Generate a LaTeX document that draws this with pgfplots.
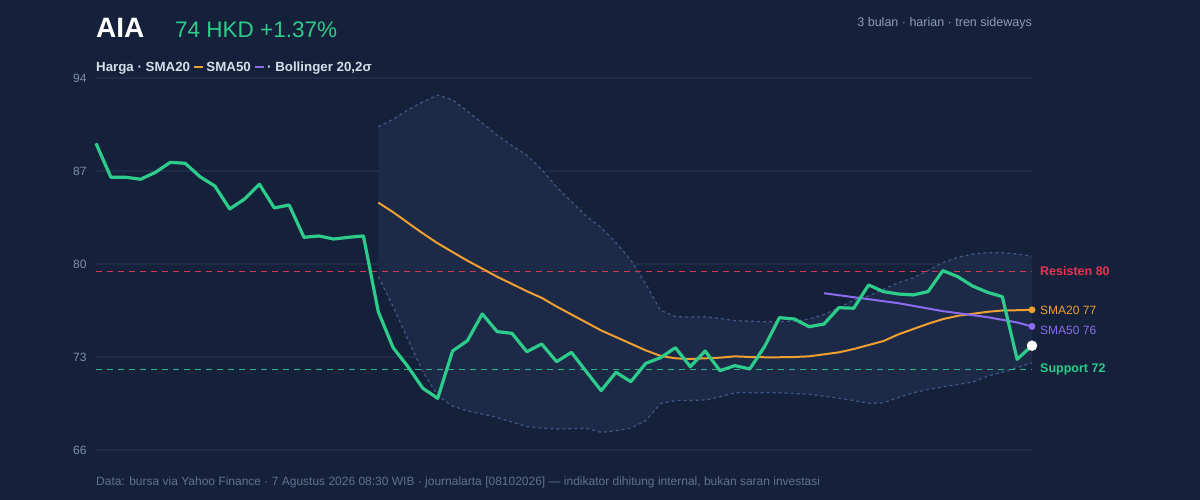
\documentclass[border=0pt]{standalone}
\usepackage{fontspec}
\setmainfont{Liberation Sans}
\usepackage{pgfplots}
\pgfplotsset{compat=1.18}
\usepackage{pgfplotstable}

\definecolor{cBg}{HTML}{15213A}
\definecolor{cGrid}{HTML}{1F2C48}
\definecolor{cBand}{HTML}{1C2A48}
\definecolor{cBandEdge}{HTML}{3E5987}
\definecolor{cPrice}{HTML}{2ECC8A}
\definecolor{cOrange}{HTML}{F0A030}
\definecolor{cPurple}{HTML}{8B6CF0}
\definecolor{cRed}{HTML}{E8344F}
\definecolor{cRedLine}{HTML}{D23A58}
\definecolor{cSupport}{HTML}{2ECC8A}
\definecolor{cSupLine}{HTML}{2DB585}
\definecolor{cTick}{HTML}{8090A8}
\definecolor{cLegend}{HTML}{D6DEEA}
\definecolor{cFoot}{HTML}{5F7290}
\definecolor{cSub}{HTML}{8D9CB4}

% daily close, index 0..63
\pgfplotstableread{
i close
0 89.08
1 86.53
2 86.53
3 86.38
4 86.90
5 87.65
6 87.58
7 86.57
8 85.87
9 84.14
10 84.89
11 86.00
12 84.22
13 84.44
14 82.01
15 82.11
16 81.88
17 82.01
18 82.11
19 76.41
20 73.70
21 72.27
22 70.64
23 69.89
24 73.45
25 74.23
26 76.24
27 74.91
28 74.78
29 73.40
30 73.98
31 72.65
32 73.35
33 71.90
34 70.47
35 71.85
36 71.14
37 72.52
38 72.95
39 73.70
40 72.27
41 73.45
42 71.97
43 72.35
44 72.10
45 73.78
46 75.96
47 75.86
48 75.28
49 75.48
50 76.71
51 76.67
52 78.42
53 77.92
54 77.74
55 77.67
56 77.92
57 79.50
58 79.05
59 78.34
60 77.87
61 77.54
62 72.83
63 73.85
}\price

% SMA20 and Bollinger bands, from index 19
\pgfplotstableread{
i sma upper lower
19 84.62 90.34 79.05
20 83.90 90.89 76.80
21 83.10 91.60 74.30
22 82.30 92.20 71.90
23 81.56 92.72 70.10
24 80.90 92.35 69.30
25 80.25 91.50 68.95
26 79.65 90.60 68.70
27 79.04 89.70 68.45
28 78.50 88.90 68.10
29 77.95 88.20 67.76
30 77.45 87.10 67.65
31 76.80 85.80 67.58
32 76.20 84.70 67.60
33 75.60 83.60 67.63
34 75.00 82.75 67.33
35 74.50 81.60 67.45
36 74.00 80.30 67.65
37 73.50 78.50 68.20
38 73.08 76.50 69.50
39 72.90 76.05 69.72
40 72.85 76.00 69.74
41 72.90 76.03 69.76
42 72.95 75.90 70.00
43 73.05 75.73 70.31
44 73.00 75.70 70.31
45 72.98 75.66 70.31
46 72.98 75.66 70.31
47 73.00 75.70 70.25
48 73.05 75.85 70.19
49 73.20 76.20 70.05
50 73.35 76.70 69.90
51 73.60 77.30 69.72
52 73.90 77.60 69.52
53 74.20 78.10 69.55
54 74.70 78.60 69.95
55 75.10 78.95 70.30
56 75.50 79.50 70.56
57 75.85 80.10 70.75
58 76.10 80.50 70.93
59 76.25 80.75 71.10
60 76.40 80.85 71.55
61 76.50 80.85 71.85
62 76.52 80.75 72.20
63 76.55 80.60 72.55
}\boll

% band outline for the fill: upper band forward, lower band back
\pgfplotstableread{
i y
19 90.34
20 90.89
21 91.60
22 92.20
23 92.72
24 92.35
25 91.50
26 90.60
27 89.70
28 88.90
29 88.20
30 87.10
31 85.80
32 84.70
33 83.60
34 82.75
35 81.60
36 80.30
37 78.50
38 76.50
39 76.05
40 76.00
41 76.03
42 75.90
43 75.73
44 75.70
45 75.66
46 75.66
47 75.70
48 75.85
49 76.20
50 76.70
51 77.30
52 77.60
53 78.10
54 78.60
55 78.95
56 79.50
57 80.10
58 80.50
59 80.75
60 80.85
61 80.85
62 80.75
63 80.60
63 72.55
62 72.20
61 71.85
60 71.55
59 71.10
58 70.93
57 70.75
56 70.56
55 70.30
54 69.95
53 69.55
52 69.52
51 69.72
50 69.90
49 70.05
48 70.19
47 70.25
46 70.31
45 70.31
44 70.31
43 70.31
42 70.00
41 69.76
40 69.74
39 69.72
38 69.50
37 68.20
36 67.65
35 67.45
34 67.33
33 67.63
32 67.60
31 67.58
30 67.65
29 67.76
28 68.10
27 68.45
26 68.70
25 68.95
24 69.30
23 70.10
22 71.90
21 74.30
20 76.80
19 79.05
}\bandpoly

% SMA50, from index 49
\pgfplotstableread{
i sma
49 77.80
50 77.65
51 77.50
52 77.35
53 77.20
54 77.05
55 76.85
56 76.65
57 76.45
58 76.30
59 76.15
60 76.00
61 75.80
62 75.60
63 75.30
}\smafifty

% resistance / support levels
\pgfplotstableread{
i res sup
0 79.45 72.05
63 79.45 72.05
}\levels

\begin{document}
\begin{tikzpicture}
\fill[cBg] (0pt,0pt) rectangle (1200pt,500pt);

\begin{axis}[
    at={(96pt,50pt)}, anchor=south west,
    scale only axis,
    width=936pt, height=372pt,
    xmin=0, xmax=63, ymin=66, ymax=94,
    axis line style={draw=none},
    xtick=\empty,
    ytick={66,73,80,87,94},
    major tick length=0pt,
    ymajorgrids,
    grid style={draw=cGrid, line width=1.5pt},
    yticklabel style={font=\fontsize{12}{14}\selectfont, text=cTick, xshift=-6pt},
    /pgf/number format/assume math mode=true,
    clip=false,
]
\addplot[fill=cBand, draw=none] table[x=i, y=y] {\bandpoly} -- cycle;
\addplot[draw=cBandEdge, line width=1.2pt, dash pattern=on 3pt off 3pt] table[x=i, y=upper] {\boll};
\addplot[draw=cBandEdge, line width=1.2pt, dash pattern=on 3pt off 3pt] table[x=i, y=lower] {\boll};

\addplot[color=cRedLine, line width=1.6pt, dash pattern=on 6pt off 5pt] table[x=i, y=res] {\levels};
\addplot[color=cSupLine, line width=1.6pt, dash pattern=on 6pt off 5pt] table[x=i, y=sup] {\levels};

\addplot[draw=cOrange, line width=2pt] table[x=i, y=sma] {\boll};
\addplot[draw=cPurple, line width=2pt] table[x=i, y=sma] {\smafifty};
\addplot[draw=cPrice, line width=3.2pt, line join=round] table[x=i, y=close] {\price};

\addplot[only marks, mark=*, mark size=3.2pt, color=cOrange] coordinates {(63,76.55)};
\addplot[only marks, mark=*, mark size=3.2pt, color=cPurple] coordinates {(63,75.30)};
\addplot[only marks, mark=*, mark size=5pt, color=white] coordinates {(63,73.85)};
\end{axis}

% header
\node[anchor=base west, inner sep=0, text=white, font=\bfseries\fontsize{28}{30}\selectfont] at (96pt,462pt) {AIA};
\node[anchor=base west, inner sep=0, text=cPrice, font=\fontsize{22.5}{25}\selectfont] at (175pt,462.5pt) {74 HKD +1.37\%};
\node[anchor=base east, inner sep=0, text=cSub, font=\fontsize{12.5}{14}\selectfont] at (1032pt,473.5pt) {3 bulan · harian · tren sideways};

% legend row
\node[anchor=base west, inner sep=0, text=cLegend, font=\bfseries\fontsize{13.3}{15}\selectfont] at (96pt,428pt)
  {Harga · SMA20 \textcolor{cOrange}{\rule[0.3em]{9pt}{2.5pt}} SMA50 \textcolor{cPurple}{\rule[0.3em]{9pt}{2.5pt}} · Bollinger 20,2σ};

% right labels
\node[anchor=west, inner sep=0, text=cRed, font=\bfseries\fontsize{12.5}{14}\selectfont] at (1040pt,228.5pt) {Resisten 80};
\node[anchor=west, inner sep=0, text=cOrange, font=\fontsize{12}{14}\selectfont] at (1040pt,190pt) {SMA20 77};
\node[anchor=west, inner sep=0, text=cPurple, font=\fontsize{12}{14}\selectfont] at (1040pt,170pt) {SMA50 76};
\node[anchor=west, inner sep=0, text=cSupport, font=\bfseries\fontsize{12.5}{14}\selectfont] at (1040pt,130.5pt) {Support 72};

% footer
\node[anchor=base west, inner sep=0, text=cFoot, font=\fontsize{12}{14}\selectfont] at (96pt,14pt)
  {Data: bursa via Yahoo Finance · 7 Agustus 2026 08:30 WIB · journalarta [08102026] — indikator dihitung internal, bukan saran investasi};

\useasboundingbox (0pt,0pt) rectangle (1200pt,500pt);
\end{tikzpicture}
\end{document}
